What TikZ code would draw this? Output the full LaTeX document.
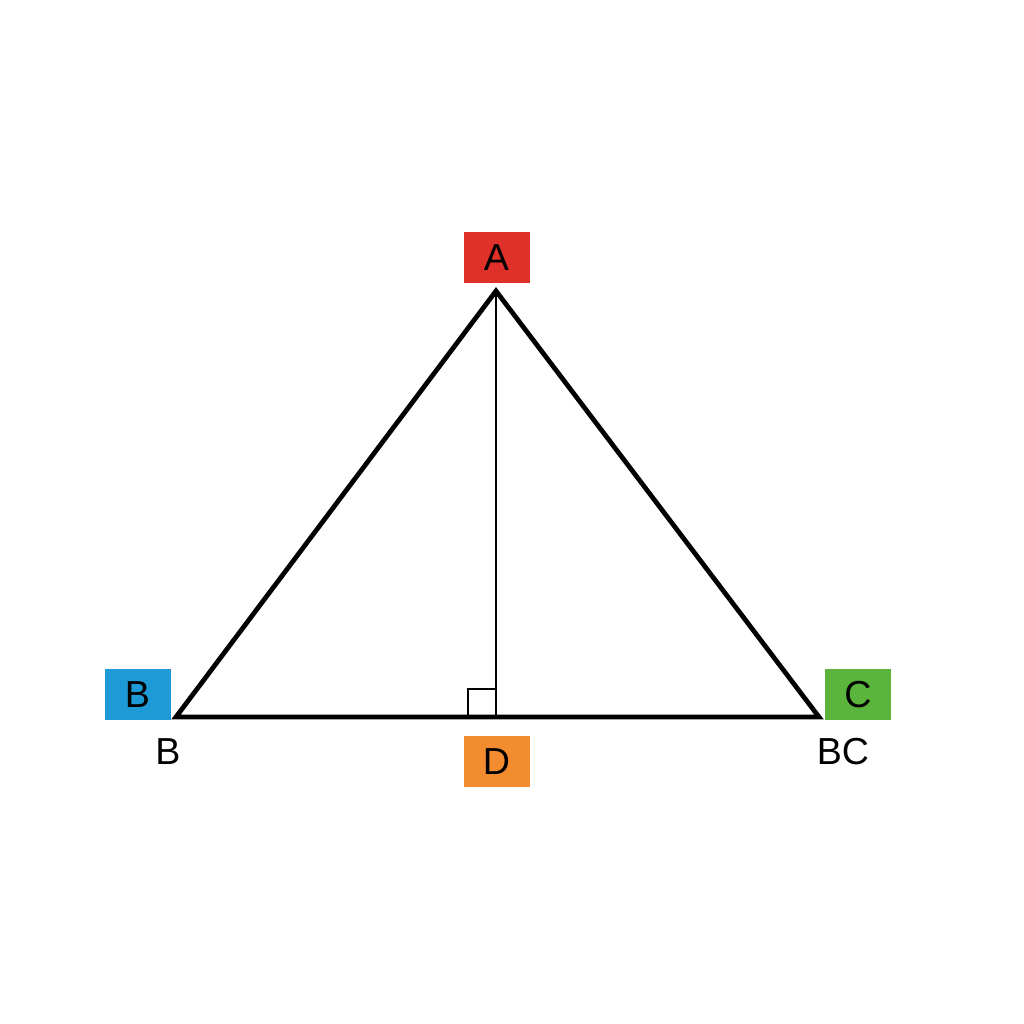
\documentclass[tikz,border=0pt]{standalone}
\usepackage{fontspec}
\setmainfont{Liberation Sans}
\usepackage{tikz}
\usetikzlibrary{calc,positioning}
\definecolor{labred}{HTML}{E0302A}
\definecolor{labblue}{HTML}{1E9AD6}
\definecolor{laborange}{HTML}{F28C2E}
\definecolor{labgreen}{HTML}{5BB43C}

\begin{document}
\begin{tikzpicture}[line join=miter,font=\fontsize{10.7}{12}\selectfont]
  \tikzstyle{tag}=[rectangle,inner sep=0pt,minimum width=6.6mm,minimum height=5.1mm,text=black]
  \tikzstyle{side}=[line width=1.35pt]
  \tikzstyle{alt}=[line width=0.65pt]

  \useasboundingbox (0,0) rectangle (10.24,10.24);

  \coordinate (A) at (4.96,7.33);
  \coordinate (B) at (1.76,3.07);
  \coordinate (C) at (8.19,3.07);
  \coordinate (D) at (4.96,3.07);

  \node[tag,fill=labred]    (tA) at (4.965,7.66) {A};
  \node[tag,fill=labblue]   (tB) at (1.375,3.29) {B};
  \node[tag,fill=laborange] (tD) at (4.965,2.62) {D};
  \node[tag,fill=labgreen]  (tC) at (8.58,3.29)  {C};
  \node (nB)  at (1.68,2.72) {B};
  \node (nBC) at (8.43,2.72) {BC};

  % altitude and right angle mark
  \draw[alt] (A) -- (D);
  \draw[line width=0.5pt] ($(D)+(-0.28,0)$) -- ++(0,0.28) -- ++(0.28,0);

  \draw[side] (A) -- (B) -- (C) -- cycle;
\end{tikzpicture}
\end{document}
